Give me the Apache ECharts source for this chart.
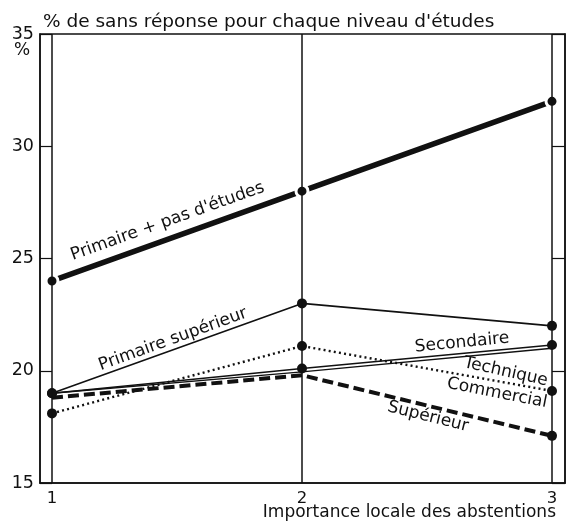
<!DOCTYPE html>
<html>
<head>
<meta charset="utf-8">
<script src="https://cdn.jsdelivr.net/npm/echarts@6/dist/echarts.min.js"></script>
<style>
html,body{margin:0;padding:0;background:#fff;}
#chart{width:571px;height:530px;}
</style>
</head>
<body>
<div id="chart"></div>
<script>
// ---- data ----
var xLevels = [1, 2, 3];
var yTicks = [15, 20, 25, 30, 35];
var primairePasEtudes = [24, 28, 32];
var primaireSuperieur = [19, 23, 22];
var secondaire = [19, 20.1, 21.15];
var technique = [19, 19.95, 21.0];
var commercial = [18.1, 21.1, 19.1];
var superieur = [18.8, 19.8, 17.1];

var titleText = "% de sans réponse pour chaque niveau d'études";
var xName = "Importance locale des abstentions";
// line labels: [text, x, y (data coords), angle in degrees]
var lineLabels = [
  ["Primaire + pas d'études", 1.462, 26.65, 19.7],
  ["Primaire supérieur", 1.484, 21.4, 19.9],
  ["Secondaire", 2.64, 21.25, 5.5],
  ["Technique", 2.815, 19.95, -12.5],
  ["Commercial", 2.78, 19.0, -11],
  ["Supérieur", 2.504, 17.95, -14]
];

var INK = '#111';
var FONT = '"DejaVu Sans", "Liberation Sans", sans-serif';

function pairs(vals) { return vals.map(function (v, i) { return [xLevels[i], v]; }); }

var chart = echarts.init(document.getElementById('chart'), null, {renderer: 'canvas'});

var option = {
  backgroundColor: '#fff',
  animation: false,
  title: {
    text: titleText, left: 38, top: 8,
    textStyle: {fontFamily: FONT, fontSize: 18.5, fontWeight: 'normal', color: INK}
  },
  grid: {left: 40, right: 6, top: 34, bottom: 47, show: true, borderColor: INK, borderWidth: 1.5, backgroundColor: 'transparent'},
  xAxis: {
    type: 'value', min: 0.952, max: 3.052,
    axisLine: {show: true, onZero: false, lineStyle: {color: INK, width: 1.5}},
    axisTick: {show: false},
    splitLine: {show: false},
    axisLabel: {customValues: xLevels, color: INK, fontFamily: FONT, fontSize: 16.5, margin: 7,
      formatter: function (v) { return String(v); }}
  },
  yAxis: [{
    type: 'value', min: yTicks[0], max: yTicks[yTicks.length - 1], interval: 5,
    axisLine: {show: true, lineStyle: {color: INK, width: 1.5}},
    axisTick: {show: true, inside: true, length: 12, lineStyle: {color: INK, width: 1.2}},
    splitLine: {show: false},
    axisLabel: {color: INK, fontFamily: FONT, fontSize: 17.5, margin: 6}
  }, {
    type: 'value', position: 'right', min: yTicks[0], max: yTicks[yTicks.length - 1], interval: 5,
    axisLine: {show: true, lineStyle: {color: INK, width: 1.5}},
    axisTick: {show: true, inside: true, length: 13, lineStyle: {color: INK, width: 1.2}},
    splitLine: {show: false},
    axisLabel: {show: false}
  }],
  series: [
    {
      name: 'Primaire + pas d\'études', type: 'line', data: pairs(primairePasEtudes),
      symbol: 'circle', symbolSize: 12,
      itemStyle: {color: INK, borderColor: '#fff', borderWidth: 3},
      lineStyle: {color: INK, width: 5.5}, z: 3
    },
    {
      name: 'Primaire supérieur', type: 'line', data: pairs(primaireSuperieur),
      symbol: 'circle', symbolSize: 10, itemStyle: {color: INK},
      lineStyle: {color: INK, width: 1.6}
    },
    {
      name: 'Technique', type: 'line', data: pairs(technique),
      symbol: 'none', lineStyle: {color: INK, width: 1.5}
    },
    {
      name: 'Secondaire', type: 'line', data: pairs(secondaire),
      symbol: 'circle', symbolSize: 10, itemStyle: {color: INK},
      lineStyle: {color: INK, width: 1.5}
    },
    {
      name: 'Commercial', type: 'line', data: pairs(commercial),
      symbol: 'circle', symbolSize: 10, itemStyle: {color: INK},
      lineStyle: {color: INK, width: 2.4, type: [2, 3.2]}
    },
    {
      name: 'Supérieur', type: 'line',
      data: pairs(superieur).map(function (p, i) {
        return i < xLevels.length - 1 ? {value: p, symbol: 'none'} : {value: p};
      }),
      symbol: 'circle', symbolSize: 10, itemStyle: {color: INK},
      lineStyle: {color: INK, width: 4, type: [11, 5]}
    },
    {
      name: 'verticals', type: 'line', data: [], z: 5, silent: true,
      markLine: {
        silent: true, symbol: 'none', animation: false,
        label: {show: false},
        lineStyle: {color: INK, width: 1.5, type: 'solid'},
        data: xLevels.map(function (x) { return {xAxis: x}; })
      }
    }
  ]
};
chart.setOption(option);

function buildGraphics() {
  var g = [];
  lineLabels.forEach(function (l) {
    var p = chart.convertToPixel({gridIndex: 0}, [l[1], l[2]]);
    g.push({
      type: 'text', x: p[0], y: p[1], rotation: l[3] * Math.PI / 180, z: 10,
      style: {text: l[0], font: '17px ' + FONT, fill: INK, textAlign: 'center', textVerticalAlign: 'middle'}
    });
  });
  var top = chart.convertToPixel({yAxisIndex: 0}, yTicks[yTicks.length - 1]);
  var left = chart.convertToPixel({xAxisIndex: 0}, 0.952);
  g.push({
    type: 'text', x: left - 18, y: top + 17, z: 10,
    style: {text: '%', font: '17px ' + FONT, fill: INK, textAlign: 'center', textVerticalAlign: 'middle'}
  });
  var right = chart.convertToPixel({xAxisIndex: 0}, xLevels[xLevels.length - 1]);
  var bottom = chart.convertToPixel({yAxisIndex: 0}, yTicks[0]);
  g.push({
    type: 'text', x: right + 4, y: bottom + 30, z: 10,
    style: {text: xName, font: '17px ' + FONT, fill: INK, textAlign: 'right', textVerticalAlign: 'middle'}
  });
  chart.setOption({graphic: g});
}
buildGraphics();
</script>
</body>
</html>
